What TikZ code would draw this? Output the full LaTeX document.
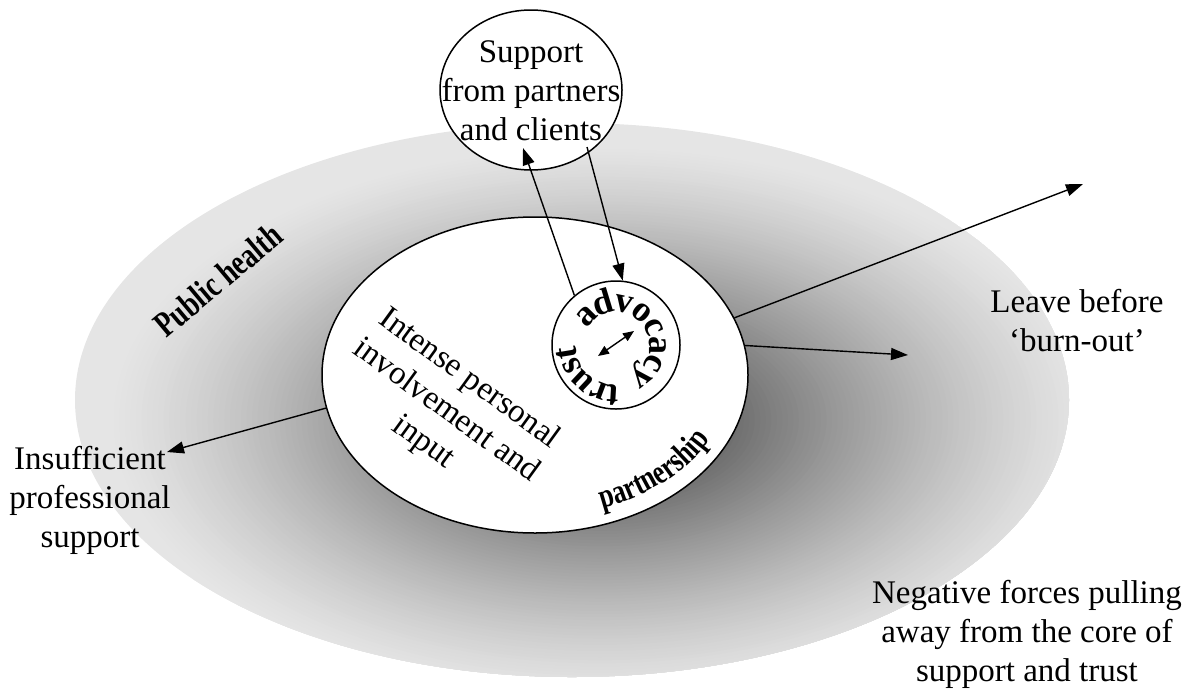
\documentclass[tikz,border=0pt]{standalone}
\usepackage{fontspec}
\setmainfont{Liberation Serif}
\newfontfamily\condserif{Liberation Serif}[FakeStretch=0.76]
\usetikzlibrary{shapes.geometric,arrows.meta,decorations.text}
\tikzset{
  shapeline/.style={draw=black, line width=1.5pt, fill=white, inner sep=0pt},
  arr/.style={line width=1.4pt, -{Triangle[length=17pt,width=12pt]}},
  dblarr/.style={line width=1.4pt, {Triangle[length=11pt,width=9pt]}-{Triangle[length=11pt,width=9pt]}},
  lbl/.style={font=\fontsize{33}{39}\selectfont, align=center, inner sep=0pt},
  cond/.style={font=\condserif\bfseries\fontsize{36}{36}\selectfont, inner sep=0pt},
}
\begin{document}
\begin{tikzpicture}[x=1pt,y=1pt]
\useasboundingbox (0,0) rectangle (1188,-689);
% outer halo: stepped radial gradient
\begin{scope}
  \clip (572,-400) ellipse [x radius=497, y radius=277];
  \fill[black!10] (572,-400) ellipse [x radius=497, y radius=277];
  \foreach \i in {0,...,89} {
    \pgfmathsetmacro{\dd}{1-\i/90}
    \pgfmathsetmacro{\gg}{0.9-0.7*((\i+0.5)/90)^1.3}
    \pgfmathsetmacro{\rx}{497*\dd}
    \pgfmathsetmacro{\ry}{277*\dd}
    \definecolor{stepgray}{gray}{\gg}
    \fill[stepgray] (600,-420) ellipse [x radius=\rx, y radius=\ry];
  }
\end{scope}
% shapes
\node[shapeline, ellipse, minimum width=426pt, minimum height=316pt] (inner) at (535,-375) {};
\node[shapeline, circle, minimum size=128pt] (core) at (616,-345) {};
\node[shapeline, ellipse, minimum width=182pt, minimum height=160pt] (support) at (531,-90) {};
\node[lbl] (supporttext) at (support.center) [yshift=-1pt] {Support\\from partners\\and clients};
% arrows
\coordinate (supin) at (523,-148);
\coordinate (supout) at (587,-147);
\coordinate (da1) at (598,-356);
\coordinate (da2) at (634,-331);
\coordinate (insuf) at (167,-452);
\coordinate (leave1) at (1083,-184);
\coordinate (leave2) at (908,-355);
\draw[arr] (core.130) -- (supin);
\draw[arr] (supout) -- (core.84);
\draw[dblarr] (da1) -- (da2);
\draw[arr] (inner.189) -- (insuf);
\draw[arr] (inner.16) -- (leave1);
\draw[arr] (inner.8) -- (leave2);
% curved words
\path[decorate, decoration={text along path, text align=center, raise=-5pt,
  text={|\bfseries\fontsize{36}{36}\selectfont|advocacy}}]
  (core.center) ++(180:38pt) arc[start angle=180, end angle=-96, radius=38pt];
\path[decorate, decoration={text along path, text align=center, raise=-6pt,
  text={|\bfseries\fontsize{36}{36}\selectfont|trust}}]
  (core.center) ++(300:46pt) arc[start angle=300, end angle=156, radius=46pt];
\path[decorate, decoration={text along path, text align=center,
  text={|\condserif\bfseries\fontsize{34}{34}\selectfont|partnership}}]
  (inner.center) ++(-80:197pt and 142pt) arc[start angle=-80, end angle=-14, x radius=197pt, y radius=142pt];
% labels
\node[cond, rotate=40] (ph) at (218,-280) {Public health};
\node[lbl, rotate=-36] (intense) at (446,-411) {Intense personal\\involvement and\\input};
\node[lbl] (leave) at (1077,-321) {Leave before\\‘burn-out’};
\node[lbl] (insufficient) at (90,-500) {Insufficient\\professional\\support};
\node[lbl] (negative) at (1027,-634) {Negative forces pulling\\away from the core of\\support and trust};
\end{tikzpicture}
\end{document}
